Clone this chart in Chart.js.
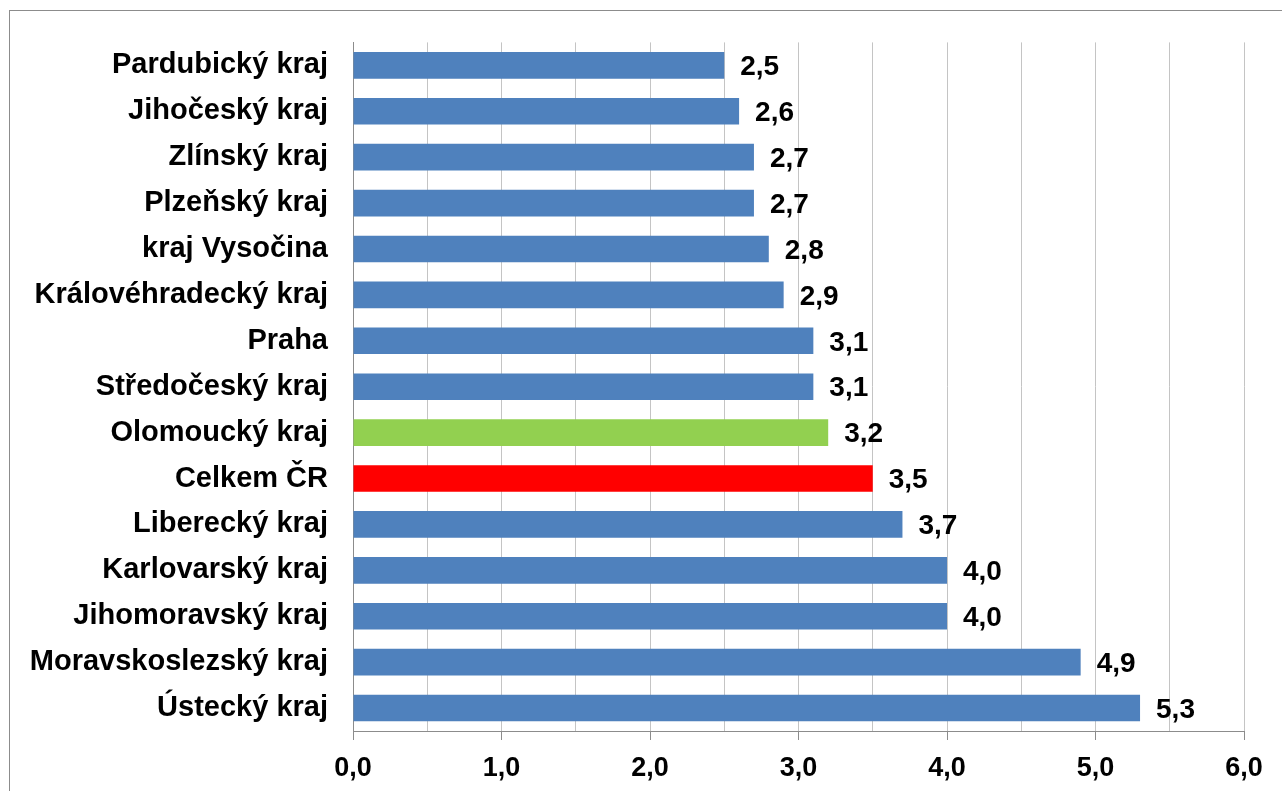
<!DOCTYPE html>
<html>
<head>
<meta charset="utf-8">
<script src="https://cdn.jsdelivr.net/npm/chart.js@4"></script>
<style>
  html, body { margin: 0; padding: 0; background: #fff; }
  #wrap { position: relative; width: 1282px; height: 791px; }
  #frame { position: absolute; left: 9px; top: 10px; width: 1300px; height: 800px;
           border-left: 1px solid #8c8c8c; border-top: 1px solid #8c8c8c; }
  canvas { position: absolute; left: 0; top: 0; }
</style>
</head>
<body>
<div id="wrap">
  <div id="frame"></div>
  <canvas id="barChart" width="1282" height="791"></canvas>
</div>
<script>
const regions = ["Pardubický kraj", "Jihočeský kraj", "Zlínský kraj", "Plzeňský kraj",
  "kraj Vysočina", "Královéhradecký kraj", "Praha", "Středočeský kraj", "Olomoucký kraj",
  "Celkem ČR", "Liberecký kraj", "Karlovarský kraj", "Jihomoravský kraj",
  "Moravskoslezský kraj", "Ústecký kraj"];
const values = [2.5, 2.6, 2.7, 2.7, 2.8, 2.9, 3.1, 3.1, 3.2, 3.5, 3.7, 4.0, 4.0, 4.9, 5.3];
const xTicks = [0, 1, 2, 3, 4, 5, 6];

const blue = '#4f81bd';
const green = '#92d050';
const red = '#ff0000';
const barColors = regions.map(r => r === 'Olomoucký kraj' ? green : (r === 'Celkem ČR' ? red : blue));

function fmt(v){
    return v.toFixed(1).replace('.', ',');
}

// draws the value next to each bar
const valueLabels = {
    id: 'valueLabels',
    afterDatasetsDraw(chart){
        const ctx = chart.ctx;
        const meta = chart.getDatasetMeta(0);
        ctx.save();
        ctx.font = 'bold 28px "Liberation Sans", Arial, sans-serif';
        ctx.fillStyle = '#000';
        ctx.textAlign = 'left';
        ctx.textBaseline = 'middle';
        meta.data.forEach((bar, i) => {
            ctx.fillText(fmt(values[i]), bar.x + 16, bar.y + 2);
        });
        ctx.restore();
    }
};

document.addEventListener('DOMContentLoaded', function () {
    const ctx = document.getElementById('barChart').getContext('2d');
    new Chart(ctx, {
        type: 'bar',
        data: {
            labels: regions,
            datasets: [{
                data: values,
                backgroundColor: barColors,
                borderWidth: 0,
                categoryPercentage: 1.0,
                barPercentage: 0.58
            }]
        },
        options: {
            indexAxis: 'y',
            responsive: false,
            animation: false,
            layout: { padding: { top: 40, right: 38, left: 0, bottom: 0 } },
            plugins: {
                legend: { display: false },
                tooltip: { enabled: false }
            },
            scales: {
                x: {
                    min: 0,
                    max: 6,
                    afterFit: s => { s.height = 60; },
                    afterBuildTicks: s => {
                        const t = [];
                        for (let i = 0; i <= 12; i++) t.push({ value: i / 2 });
                        s.ticks = t;
                    },
                    ticks: {
                        color: '#000',
                        font: { family: '"Liberation Sans", Arial, sans-serif', size: 27, weight: 'bold' },
                        padding: 12,
                        maxRotation: 0,
                        autoSkip: false,
                        callback: v => xTicks.includes(v) ? fmt(v) : ''
                    },
                    grid: {
                        color: '#c4c4c4',
                        lineWidth: 1,
                        tickLength: 9,
                        tickColor: c => (c.tick && Number.isInteger(c.tick.value)) ? '#8c8c8c' : 'rgba(0,0,0,0)'
                    },
                    border: { display: true, color: '#8c8c8c', width: 1 }
                },
                y: {
                    afterFit: s => { s.width = 353; },
                    ticks: {
                        color: '#000',
                        font: { family: '"Liberation Sans", Arial, sans-serif', size: 29, weight: 'bold' },
                        padding: 25,
                        autoSkip: false
                    },
                    grid: { display: false, drawTicks: false },
                    border: { display: true, color: '#8c8c8c', width: 1 }
                }
            }
        },
        plugins: [valueLabels]
    });
});
</script>
</body>
</html>
